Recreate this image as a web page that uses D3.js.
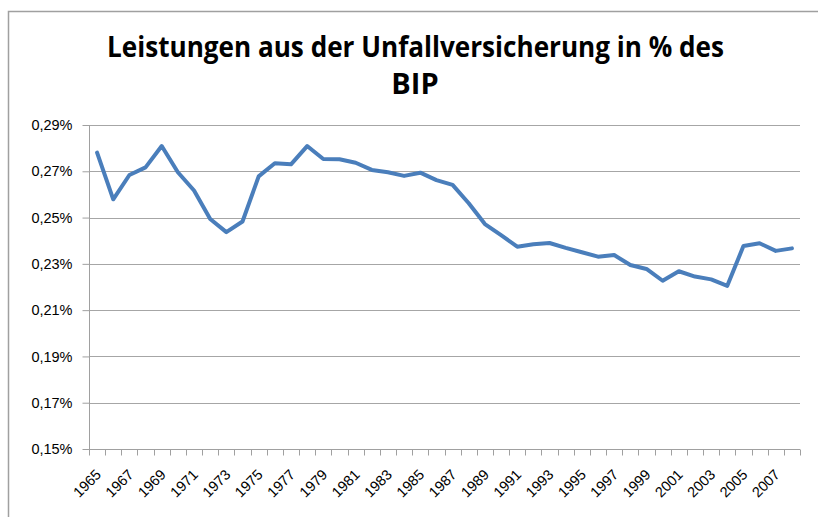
<!DOCTYPE html>
<html>
<head>
<meta charset="utf-8">
<script src="https://cdn.jsdelivr.net/npm/d3@7"></script>
<style>
  body { margin: 0; background: #fff; }
  .tick text { font-family: "Liberation Sans", Arial, sans-serif; font-size: 14.5px; fill: #000; }
  .title { font-family: "Open Sans", "Noto Sans", sans-serif; font-weight: 700; font-size: 29px; fill: #000; }
</style>
</head>
<body>
<svg width="818" height="517"></svg>
<script>
const years = d3.range(1965, 2009);
const values = [
  0.2781, 0.2579, 0.2684, 0.2717, 0.2809, 0.2696, 0.2617, 0.2494, 0.2437, 0.2483,
  0.2678, 0.2735, 0.2730, 0.2809, 0.2753, 0.2752, 0.2737, 0.2706, 0.2696, 0.2680,
  0.2694, 0.2662, 0.2641, 0.2562, 0.2472, 0.2424, 0.2374, 0.2385, 0.2390, 0.2369,
  0.2350, 0.2331, 0.2338, 0.2295, 0.2278, 0.2227, 0.2268, 0.2245, 0.2233, 0.2205,
  0.2377, 0.2389, 0.2356, 0.2367
];
const yTicks = [0.15, 0.17, 0.19, 0.21, 0.23, 0.25, 0.27, 0.29];
const titleLines = ["Leistungen aus der Unfallversicherung in % des", "BIP"];

const svg = d3.select("svg");

// chart area border (only top/left visible in the crop)
svg.append("path")
  .attr("d", "M8.5,517V11.5H818")
  .attr("fill", "none").attr("stroke", "#a0a0a0").attr("stroke-width", 1.5);

const margin = { left: 89, right: 800, top: 125, bottom: 449 };

const x = d3.scaleBand()
  .domain(years)
  .range([margin.left, margin.right]);

const y = d3.scaleLinear()
  .domain([0.15, 0.29])
  .range([margin.bottom, margin.top]);

const fmt = d => d3.format(".2f")(d).replace(".", ",") + "%";

// gridlines
svg.append("g")
  .selectAll("line")
  .data(yTicks.slice(1))
  .enter()
  .append("line")
  .attr("x1", margin.left).attr("x2", margin.right)
  .attr("y1", d => Math.round(y(d)) + 0.5).attr("y2", d => Math.round(y(d)) + 0.5)
  .attr("stroke", "#a6a6a6").attr("stroke-width", 1);

// y axis
const yAxis = svg.append("g")
  .attr("transform", `translate(${margin.left + 0.5},0)`)
  .call(d3.axisLeft(y).tickValues(yTicks).tickFormat(fmt).tickSize(7).tickPadding(10));
yAxis.selectAll("line, path").attr("stroke", "#a0a0a0");
yAxis.select(".domain").attr("d", `M0,${margin.top}V${margin.bottom}`);

// x axis with tick marks on category boundaries
const xAxisG = svg.append("g")
  .attr("transform", `translate(0,${margin.bottom + 0.5})`);
xAxisG.append("line")
  .attr("x1", margin.left).attr("x2", margin.right)
  .attr("stroke", "#a0a0a0");
xAxisG.selectAll("line.tk")
  .data(years.concat([years[years.length - 1] + 1]))
  .enter()
  .append("line")
  .attr("class", "tk")
  .attr("x1", (d, i) => Math.round(margin.left + i * x.bandwidth()) + 0.5)
  .attr("x2", (d, i) => Math.round(margin.left + i * x.bandwidth()) + 0.5)
  .attr("y1", 0).attr("y2", 6)
  .attr("stroke", "#a0a0a0");

xAxisG.selectAll("text")
  .data(years.filter((d, i) => i % 2 === 0))
  .enter()
  .append("text")
  .attr("font-family", "Liberation Sans, Arial, sans-serif")
  .attr("font-size", "14.5px")
  .attr("text-anchor", "end")
  .attr("transform", d => `translate(${x(d) + x.bandwidth() / 2 + 5},${26}) rotate(-45)`)
  .text(d => d);

// line
const line = d3.line()
  .x((d, i) => x(years[i]) + x.bandwidth() / 2)
  .y(d => y(d));

svg.append("path")
  .datum(values)
  .attr("d", line)
  .attr("fill", "none")
  .attr("stroke", "#4a7ebb")
  .attr("stroke-width", 4)
  .attr("stroke-linejoin", "round")
  .attr("stroke-linecap", "round");

// title
svg.append("text")
  .attr("class", "title")
  .attr("x", 415.5).attr("y", 57)
  .attr("text-anchor", "middle")
  .attr("textLength", 617)
  .attr("lengthAdjust", "spacingAndGlyphs")
  .text(titleLines[0]);
svg.append("text")
  .attr("class", "title")
  .attr("x", 415).attr("y", 94)
  .attr("text-anchor", "middle")
  .text(titleLines[1]);
</script>
</body>
</html>
